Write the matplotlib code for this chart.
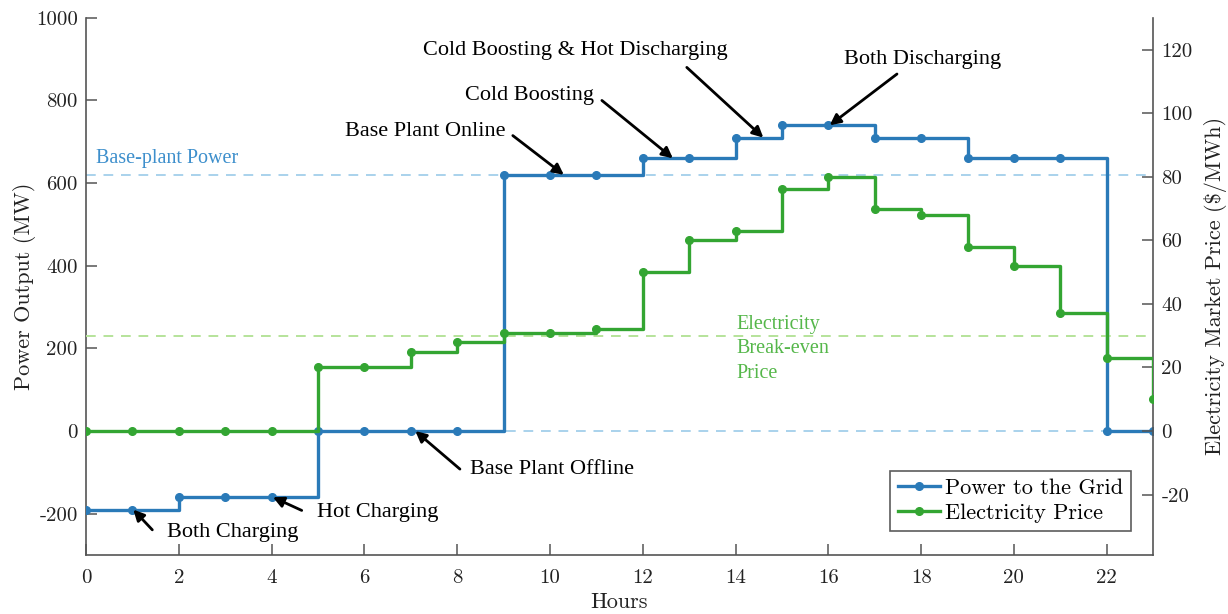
import numpy as np
import matplotlib.pyplot as plt

# Hourly dispatch: power delivered to the grid and the market price
hours = np.arange(0, 24)
power_mw = [-190, -190, -160, -160, -160, 0, 0, 0, 0, 620, 620, 620,
            660, 660, 710, 740, 740, 710, 710, 660, 660, 660, 0, 0]
price = [0, 0, 0, 0, 0, 20, 20, 25, 28, 31, 31, 32,
         50, 60, 63, 76, 80, 70, 68, 58, 52, 37, 23, 10]

base_plant_power = 620
break_even_price = 30

x_ticks = np.arange(0, 23, 2)
power_ticks = np.arange(-200, 1001, 200)
price_ticks = np.arange(-20, 121, 20)

# (label, text x, text y, arrow tail x, tail y, arrow tip x, tip y) in hours / MW
notes = [
    ("Both Charging", 3.17, -245, 1.43, -239, 1.02, -190),
    ("Hot Charging", 6.29, -197, 4.65, -192, 4.03, -160),
    ("Base Plant Offline", 10.04, -92, 8.06, -92, 7.1, 0),
    ("Base Plant Online", 7.31, 726, 9.2, 715, 10.3, 620),
    ("Cold Boosting", 9.57, 813, 11.12, 800, 12.65, 660),
    ("Cold Boosting & Hot Discharging", 10.54, 920, 12.95, 880, 14.6, 710),
    ("Both Discharging", 18.04, 900, 17.48, 864, 16.03, 740),
]

blue = '#2a7ab8'
green = '#33a532'
cm_font = ['cmr10', 'DejaVu Serif']
times_font = ['Liberation Serif', 'DejaVu Serif']
plt.rcParams['axes.unicode_minus'] = False
plt.rcParams['axes.formatter.use_mathtext'] = True

fig = plt.figure(figsize=(12.28, 6.14), dpi=100)
ax = fig.add_axes([0.070, 0.096, 0.869, 0.875])
ax2 = ax.twinx()

# reference levels
ax.axhline(base_plant_power, color='#a9d2ec', lw=1.4, ls=(0, (5, 4)), zorder=1)
ax.axhline(0, color='#a9d2ec', lw=1.4, ls=(0, (5, 4)), zorder=1)
ax2.axhline(break_even_price, color='#b6e39a', lw=1.4, ls=(0, (5, 4)), zorder=1)

l1, = ax.step(hours, power_mw, where='post', color=blue, lw=2.4,
              marker='o', ms=5.5, label='Power to the Grid', zorder=3)
l2, = ax2.step(hours, price, where='post', color=green, lw=2.4,
               marker='o', ms=5.5, label='Electricity Price', zorder=3)

ax.set_xlim(0, 23)
ax.set_ylim(-300, 1000)
ax2.set_ylim(-39, 130)

ax.set_xticks(x_ticks)
ax.set_xticklabels([str(v) for v in x_ticks], family=cm_font, fontsize=15)
ax.set_yticks(power_ticks)
ax.set_yticklabels([str(v) for v in power_ticks], family=cm_font, fontsize=15)
ax2.set_yticks(price_ticks)
ax2.set_yticklabels([str(v) for v in price_ticks], family=cm_font, fontsize=15)

for a in (ax, ax2):
    a.spines['top'].set_visible(False)
    for s in a.spines.values():
        s.set_color('#555555')
        s.set_linewidth(1.2)
    a.tick_params(direction='in', length=8, width=1.1, colors='#555555',
                  labelcolor='#222222', pad=6)
ax.tick_params(axis='x', pad=10)
ax.spines['right'].set_visible(False)
ax2.spines['left'].set_visible(False)
ax2.spines['bottom'].set_visible(False)

ax.set_xlabel('Hours', family=cm_font, fontsize=16, labelpad=4, color='#222222')
ax.set_ylabel('Power Output (MW)', family=cm_font, fontsize=16, labelpad=0, color='#222222')
ax2.set_ylabel(r'Electricity Market Price (\$/MWh)', family=cm_font, fontsize=16,
               labelpad=8, color='#222222')

ax.text(0.22, 660, 'Base-plant Power', color='#3d8fcc', fontsize=14.5,
        family=times_font, ha='left', va='center')
ax.text(14.03, 199, 'Electricity\nBreak-even\nPrice', color='#55b74a', fontsize=14.5,
        family=times_font, ha='left', va='center', linespacing=1.4)

for label, tx, ty, ax0, ay0, px, py in notes:
    ax2.text(tx, ty, label, transform=ax.transData, fontsize=16,
             family=times_font, ha='center', va='center', color='black', zorder=5)
    ax2.annotate('', xy=(px, py), xytext=(ax0, ay0),
                 xycoords=ax.transData, textcoords=ax.transData,
                 arrowprops=dict(arrowstyle='-|>', color='black', lw=2.0,
                                 mutation_scale=16, shrinkA=0, shrinkB=0),
                 zorder=5)

leg = ax2.legend(handles=[l1, l2], loc='lower right', bbox_to_anchor=(0.979, 0.045),
                 borderaxespad=0, frameon=True, fancybox=False, handlelength=1.9,
                 handletextpad=0.2, labelspacing=0.25, borderpad=0.35,
                 prop={'family': cm_font, 'size': 16})
leg.get_frame().set_edgecolor('#333333')
leg.get_frame().set_linewidth(1.2)

fig.savefig('out.png', dpi=100)
